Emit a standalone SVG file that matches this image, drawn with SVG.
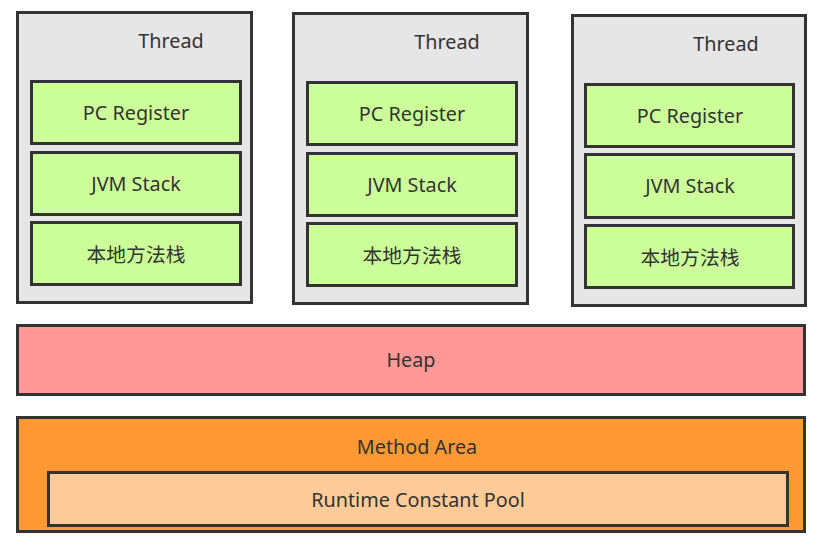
<svg xmlns="http://www.w3.org/2000/svg" width="818" height="546" viewBox="0 0 818 546">
<style>
rect{stroke:#333;stroke-width:3}
.t{fill:#e6e6e6}
.g{fill:#ccff99}
.h{fill:#ff9999}
.m{fill:#ff9933}
.r{fill:#ffcc99}
text{font-family:"Noto Sans","Noto Sans CJK SC",sans-serif;font-size:19.8px;fill:#333;text-anchor:middle;dominant-baseline:central}
</style>
<rect width="818" height="546" fill="#fff" style="stroke:none"/>
<g id="thread1">
<rect class="t" x="17.5" y="12.5" width="234" height="290"/>
<text x="171" y="40">Thread</text>
</g>
<g id="pc1"><rect class="g" x="31.5" y="81.5" width="209" height="62"/><text x="136" y="112">PC Register</text></g>
<g id="jvm1"><rect class="g" x="31.5" y="152.5" width="209" height="62"/><text x="136" y="183">JVM Stack</text></g>
<g id="native1"><rect class="g" x="31.5" y="222.5" width="209" height="62"/><text x="136" y="254">本地方法栈</text></g>
<g id="thread2">
<rect class="t" x="293.5" y="13.5" width="234" height="290"/>
<text x="447" y="41">Thread</text>
</g>
<g id="pc2"><rect class="g" x="307.5" y="82.5" width="209" height="62"/><text x="412" y="113">PC Register</text></g>
<g id="jvm2"><rect class="g" x="307.5" y="153.5" width="209" height="62"/><text x="412" y="184">JVM Stack</text></g>
<g id="native2"><rect class="g" x="307.5" y="223.5" width="209" height="62"/><text x="412" y="255">本地方法栈</text></g>
<g id="thread3">
<rect class="t" x="572.5" y="15.5" width="233" height="290"/>
<text x="726" y="43">Thread</text>
</g>
<g id="pc3"><rect class="g" x="585.5" y="84.5" width="208" height="62"/><text x="690" y="115">PC Register</text></g>
<g id="jvm3"><rect class="g" x="585.5" y="154.5" width="208" height="63"/><text x="690" y="185">JVM Stack</text></g>
<g id="native3"><rect class="g" x="585.5" y="225.5" width="208" height="62"/><text x="690" y="257">本地方法栈</text></g>
<g id="heap"><rect class="h" x="17.5" y="325.5" width="787" height="69"/><text x="411" y="359">Heap</text></g>
<g id="method"><rect class="m" x="17.5" y="417.5" width="787" height="114"/><text x="417" y="446">Method Area</text></g>
<g id="pool"><rect class="r" x="48.5" y="472.5" width="739" height="53"/><text x="418" y="499">Runtime Constant Pool</text></g>
<g id="connectors"/>
</svg>
